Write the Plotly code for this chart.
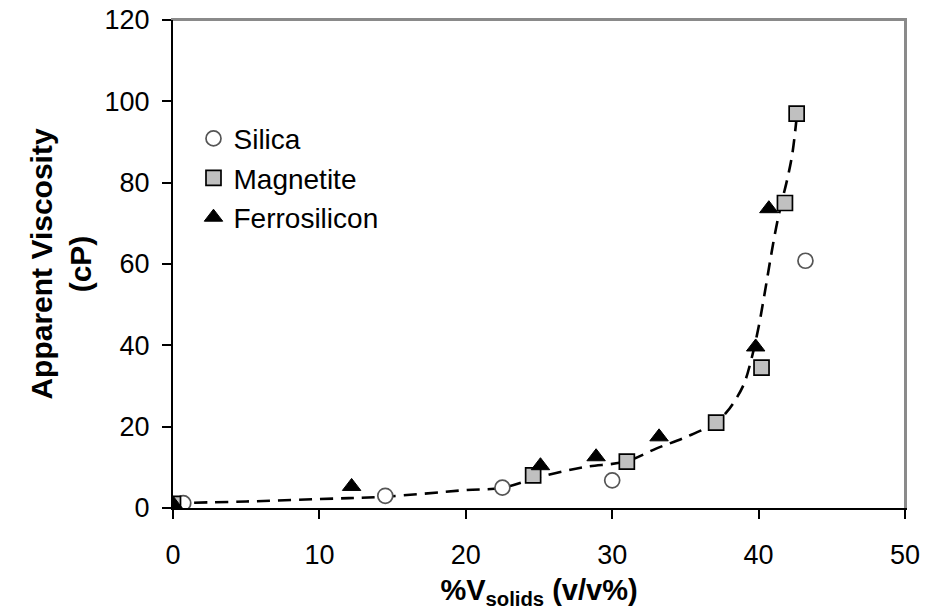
import plotly.graph_objects as go

# ---- data ----
silica_x = [0.7, 14.5, 22.5, 30.0, 43.2]
silica_y = [1.2, 3.0, 5.0, 6.8, 60.8]

magnetite_x = [0.0, 24.6, 31.0, 37.1, 40.2, 41.8, 42.6]
magnetite_y = [1.0, 8.0, 11.4, 21.0, 34.5, 75.0, 97.0]

ferro_x = [0.0, 12.2, 25.1, 28.9, 33.2, 39.8, 40.7]
ferro_y = [1.0, 5.3, 10.4, 12.6, 17.5, 39.6, 73.6]

trend_x = [0.0, 5.0, 10.0, 14.5, 20.0, 22.5, 25.0, 28.0, 31.0, 33.0, 35.0, 37.1,
           37.8, 38.4, 39.0, 39.5, 40.0, 40.4, 40.8, 41.2, 41.6, 42.0, 42.3, 42.6]
trend_y = [1.2, 1.6, 2.2, 2.8, 4.4, 5.0, 7.6, 10.0, 11.5, 14.6, 17.4, 21.0,
           23.5, 26.5, 30.5, 36.5, 44.5, 52.5, 61.0, 69.0, 75.5, 81.5, 87.0, 96.0]

x_range = [0, 50]
y_range = [0, 120]
x_ticks = [0, 10, 20, 30, 40, 50]
y_ticks = [0, 20, 40, 60, 80, 100, 120]

FONT = "Liberation Sans, Arial, sans-serif"
FRAME = "#8a8a8a"

fig = go.Figure()

fig.add_trace(go.Scatter(
    x=trend_x, y=trend_y, mode="lines", showlegend=False,
    line=dict(color="black", width=2.6, dash="13px,8px", shape="spline", smoothing=1.0),
    hoverinfo="skip"))

fig.add_trace(go.Scatter(
    x=silica_x, y=silica_y, mode="markers", name="Silica",
    marker=dict(symbol="circle", size=15, color="white",
                line=dict(color="#555555", width=1.7))))

fig.add_trace(go.Scatter(
    x=magnetite_x, y=magnetite_y, mode="markers", name="Magnetite",
    marker=dict(symbol="square", size=15, color="#c0c0c0",
                line=dict(color="black", width=1.7))))

fig.add_trace(go.Scatter(
    x=ferro_x, y=ferro_y, mode="markers", name="Ferrosilicon",
    marker=dict(symbol="triangle-up", size=16, color="black",
                line=dict(color="black", width=1))))

# empty trace that only creates the overlay subplot carrying the gray frame axes
fig.add_trace(go.Scatter(x=[], y=[], xaxis="x2", yaxis="y2", mode="lines",
                         showlegend=False, hoverinfo="skip"))

fig.update_layout(
    width=933, height=610,
    margin=dict(l=173, r=28, t=20, b=102),
    paper_bgcolor="white", plot_bgcolor="rgba(0,0,0,0)",
    font=dict(family=FONT, size=27, color="black"),
    legend=dict(x=0.028, y=0.808, xanchor="left", yanchor="top",
                font=dict(family=FONT, size=28, color="black"),
                bgcolor="rgba(0,0,0,0)", tracegroupgap=0, itemwidth=30),
    xaxis=dict(range=x_range, tickvals=x_ticks, showgrid=False, zeroline=False,
               showline=True, linecolor="black", linewidth=2, automargin=False,
               ticks="outside", ticklen=9, tickwidth=2, tickcolor="black",
               ticklabelstandoff=13,
               title=dict(text="<b>%V<sub>solids</sub> (v/v%)</b>",
                          font=dict(family=FONT, size=29), standoff=21)),
    yaxis=dict(range=y_range, tickvals=y_ticks, showgrid=False, zeroline=False,
               showline=True, linecolor="black", linewidth=2, automargin=False,
               ticks="outside", ticklen=9, tickwidth=2, tickcolor="black",
               ticklabelstandoff=7,
               title=dict(text="<b>Apparent Viscosity<br>(cP)</b>",
                          font=dict(family=FONT, size=30), standoff=4)),
    xaxis2=dict(overlaying="x", anchor="y2", side="top", range=x_range,
                showline=True, linecolor=FRAME, linewidth=2, showgrid=False,
                zeroline=False, showticklabels=False, ticks="", automargin=False),
    yaxis2=dict(overlaying="y", anchor="x2", side="right", range=y_range,
                showline=True, linecolor=FRAME, linewidth=2, showgrid=False,
                zeroline=False, showticklabels=False, ticks="", automargin=False),
)

# gray top and right frame lines (also as shapes, drawn over the same place)
fig.add_shape(type="line", xref="paper", yref="paper", x0=0, x1=1, y0=1, y1=1,
              layer="above", line=dict(color=FRAME, width=2))
fig.add_shape(type="line", xref="paper", yref="paper", x0=1, x1=1, y0=0, y1=1,
              layer="above", line=dict(color=FRAME, width=2))

# remove the default 8px page margin so the figure fills the window exactly
fig.write_html("out.html",
               config={"displayModeBar": False},
               post_script="document.body.style.margin='0';document.body.style.overflow='hidden';")
